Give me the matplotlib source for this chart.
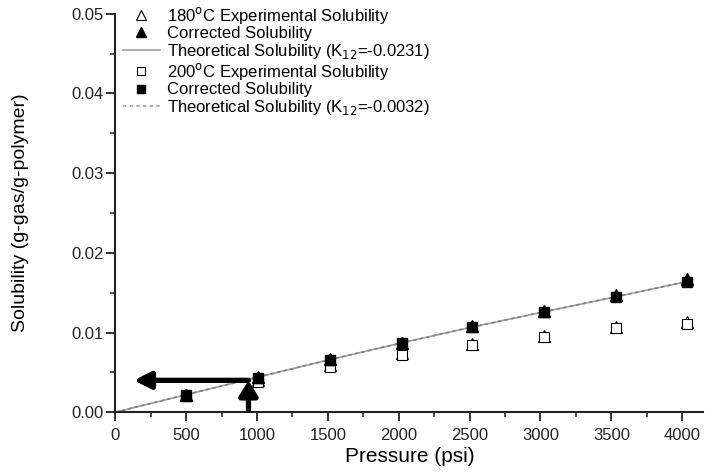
import numpy as np
import matplotlib
matplotlib.use("Agg")
import matplotlib.pyplot as plt
from matplotlib.ticker import MultipleLocator, FormatStrFormatter

plt.rcParams['font.family'] = ['Liberation Sans', 'DejaVu Sans']

pressure = [500, 1005, 1515, 2020, 2520, 3025, 3535, 4035]

exp_180 = [0.0021, 0.0040, 0.0059, 0.0074, 0.0086, 0.0096, 0.0107, 0.0113]
corr_180 = [0.0022, 0.0044, 0.0067, 0.0087, 0.0108, 0.0127, 0.0147, 0.0167]
exp_200 = [0.0020, 0.0038, 0.0057, 0.0072, 0.0084, 0.0094, 0.0106, 0.0111]
corr_200 = [0.0021, 0.0043, 0.0066, 0.0087, 0.0107, 0.0126, 0.0145, 0.0163]

theo_p = [0, 500, 1005, 1515, 2020, 2520, 3025, 3535, 4035]
theo_180 = [0, 0.0022, 0.0044, 0.0066, 0.0087, 0.0107, 0.0126, 0.0145, 0.0164]
theo_200 = [0, 0.0022, 0.0044, 0.0066, 0.0087, 0.0107, 0.0126, 0.0145, 0.0164]

arrow_p = 940
arrow_s = 0.0040
arrow_left = 130
arrow_bottom = 0.0003

fig = plt.figure(figsize=(7.07, 4.76), dpi=100)
ax = fig.add_axes([0.163, 0.134, 0.832, 0.837])

ax.plot(theo_p, theo_180, color='#a0a0a0', lw=1.2, zorder=1)
ax.plot(theo_p, theo_200, color='#808080', lw=1.2, ls=(0, (2, 2)), zorder=1)

ax.plot(pressure, exp_180, ls='none', marker='^', ms=8, mfc='white', mec='black', mew=0.8, zorder=3)
ax.plot(pressure, corr_180, ls='none', marker='^', ms=8, mfc='black', mec='black', zorder=4)
ax.plot(pressure, exp_200, ls='none', marker='s', ms=7, mfc='white', mec='black', mew=0.8, zorder=3)
ax.plot(pressure, corr_200, ls='none', marker='s', ms=7, mfc='black', mec='black', zorder=4)

# legend in two groups, built from proxy handles
h1 = [
    plt.Line2D([], [], ls='none', marker='^', ms=7, mfc='white', mec='black', mew=0.8),
    plt.Line2D([], [], ls='none', marker='^', ms=7, mfc='black', mec='black'),
    plt.Line2D([], [], color='#a0a0a0', lw=1.2),
]
h2 = [
    plt.Line2D([], [], ls='none', marker='s', ms=6, mfc='white', mec='black', mew=0.8),
    plt.Line2D([], [], ls='none', marker='s', ms=6, mfc='black', mec='black'),
    plt.Line2D([], [], color='#a0a0a0', lw=1.2, ls=(0, (2, 2))),
]
labels1 = [
    '180$^{\\rm o}$C Experimental Solubility',
    'Corrected Solubility',
    'Theoretical Solubility (K$_{12}$=-0.0231)',
]
labels2 = [
    '200$^{\\rm o}$C Experimental Solubility',
    'Corrected Solubility',
    'Theoretical Solubility (K$_{12}$=-0.0032)',
]
leg_kw = dict(loc='upper left', bbox_transform=fig.transFigure, frameon=False,
              fontsize=12, handlelength=2.2, handletextpad=0.42, labelspacing=0.03,
              borderaxespad=0, borderpad=0)
leg1 = ax.legend(h1, labels1, bbox_to_anchor=(0.174, 0.99), **leg_kw)
ax.add_artist(leg1)
ax.legend(h2, labels2, bbox_to_anchor=(0.174, 0.872), **leg_kw)

ax.annotate('', xy=(arrow_left, arrow_s), xytext=(arrow_p, arrow_s),
            arrowprops=dict(arrowstyle='-|>,head_length=1.0,head_width=0.5',
                            lw=3.8, color='black', shrinkA=0, shrinkB=0))
ax.annotate('', xy=(arrow_p, arrow_s), xytext=(arrow_p, arrow_bottom),
            arrowprops=dict(arrowstyle='-|>,head_length=0.9,head_width=0.55',
                            lw=3.8, color='black', shrinkA=0, shrinkB=0))

ax.set_xlim(0, 4150)
ax.set_ylim(0, 0.05)
ax.xaxis.set_major_locator(MultipleLocator(500))
ax.xaxis.set_minor_locator(MultipleLocator(250))
ax.yaxis.set_major_locator(MultipleLocator(0.01))
ax.yaxis.set_minor_locator(MultipleLocator(0.005))
ax.yaxis.set_major_formatter(FormatStrFormatter('%.2f'))

for s in ['top', 'right']:
    ax.spines[s].set_visible(False)
for s in ['left', 'bottom']:
    ax.spines[s].set_linewidth(1.5)
    ax.spines[s].set_color('#222222')
ax.tick_params(which='major', direction='out', length=6.5, width=1.3, labelsize=12,
               colors='#222222')
ax.tick_params(which='minor', direction='out', length=3.5, width=1.1, colors='#222222')
ax.tick_params(axis='x', which='major', pad=5)
ax.tick_params(axis='y', which='major', pad=2)

ax.set_xlabel('Pressure (psi)', fontsize=15, labelpad=3)
ax.set_ylabel('Solubility (g-gas/g-polymer)', fontsize=14, labelpad=30)

fig.savefig('out.png', dpi=100)
